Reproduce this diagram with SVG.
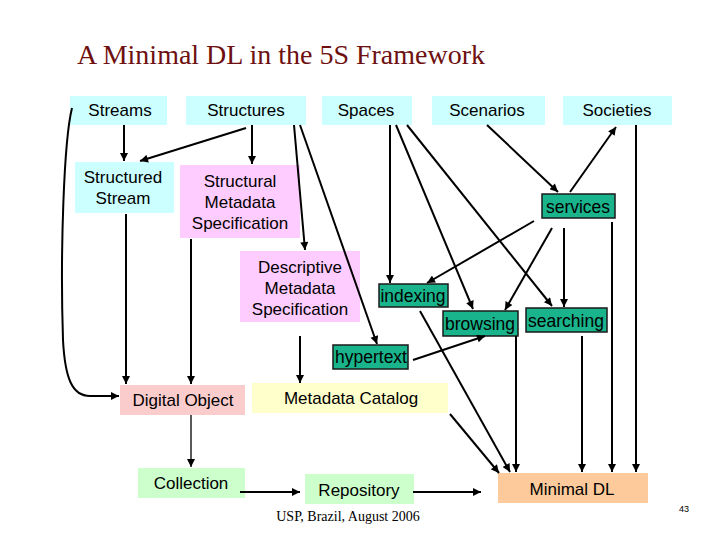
<svg xmlns="http://www.w3.org/2000/svg" width="720" height="540" viewBox="0 0 720 540">
<style>
.t{font-family:"Liberation Sans",Arial,sans-serif;font-size:17px;fill:#000;text-anchor:middle}
.g{font-size:17.5px}
.cy{fill:#ccffff}
.pk{fill:#ffccff}
.gr{fill:#1ab48c;stroke:#1a1a1a;stroke-width:1.5}
.sa{fill:#fbcccc}
.ye{fill:#ffffcc}
.lg{fill:#ccffcc}
.pe{fill:#fdcb9b}
#connectors path{fill:none;stroke:#000;stroke-width:2;marker-end:url(#ah)}
</style>
<defs>
<marker id="ah" viewBox="0 0 10 10" refX="10" refY="5" markerWidth="9" markerHeight="8" markerUnits="userSpaceOnUse" orient="auto">
<path d="M0,0 L10,5 L0,10 z" fill="#000"/>
</marker>
</defs>
<rect width="720" height="540" fill="#fff"/>
<text x="77" y="64" font-family="Liberation Serif,Times New Roman,serif" font-size="28" fill="#6e1010">A Minimal DL in the 5S Framework</text>

<g id="streams"><rect class="cy" x="70" y="96" width="97" height="29"/><text class="t" x="120" y="116">Streams</text></g>
<g id="structures"><rect class="cy" x="186" y="96" width="120" height="29"/><text class="t" x="246" y="116">Structures</text></g>
<g id="spaces"><rect class="cy" x="322" y="96" width="90" height="29"/><text class="t" x="366" y="116">Spaces</text></g>
<g id="scenarios"><rect class="cy" x="432" y="96" width="113" height="29"/><text class="t" x="487" y="116">Scenarios</text></g>
<g id="societies"><rect class="cy" x="563" y="96" width="109" height="29"/><text class="t" x="617" y="116">Societies</text></g>

<g id="structured-stream"><rect class="cy" x="75" y="162" width="99" height="51"/><text class="t" x="123" y="183">Structured</text><text class="t" x="123" y="204">Stream</text></g>
<g id="structural-metadata"><rect class="pk" x="180" y="165" width="120" height="73"/><text class="t" x="240" y="187">Structural</text><text class="t" x="240" y="208">Metadata</text><text class="t" x="240" y="229">Specification</text></g>
<g id="descriptive-metadata"><rect class="pk" x="240" y="251" width="120" height="71"/><text class="t" x="300" y="273">Descriptive</text><text class="t" x="300" y="294">Metadata</text><text class="t" x="300" y="315">Specification</text></g>

<g id="services"><rect class="gr" x="542" y="194" width="73" height="24"/><text class="t g" x="578" y="213">services</text></g>
<g id="indexing"><rect class="gr" x="379" y="284" width="69" height="23"/><text class="t g" x="413" y="302">indexing</text></g>
<g id="browsing"><rect class="gr" x="443" y="311" width="75" height="25"/><text class="t g" x="480" y="330">browsing</text></g>
<g id="searching"><rect class="gr" x="526" y="308" width="81" height="24"/><text class="t g" x="566" y="327">searching</text></g>
<g id="hypertext"><rect class="gr" x="333" y="345" width="75" height="24"/><text class="t g" x="371" y="363">hypertext</text></g>

<g id="digital-object"><rect class="sa" x="120" y="385" width="125" height="30"/><text class="t" x="183" y="406">Digital Object</text></g>
<g id="metadata-catalog"><rect class="ye" x="252" y="383" width="196" height="30"/><text class="t" x="351" y="404">Metadata Catalog</text></g>
<g id="collection"><rect class="lg" x="138" y="468" width="107" height="30"/><text class="t" x="191" y="489">Collection</text></g>
<g id="repository"><rect class="lg" x="305" y="474" width="109" height="30"/><text class="t" x="359" y="496">Repository</text></g>
<g id="minimal-dl"><rect class="pe" x="498" y="473" width="150" height="30"/><text class="t" x="572" y="495">Minimal DL</text></g>

<g id="connectors">
<path d="M124,125 L124,161"/>
<path d="M246,128 L140,161"/>
<path d="M252,125 L252,164"/>
<path d="M294,125 L305,250"/>
<path d="M300,125 L377,344"/>
<path d="M390,125 L390,283"/>
<path d="M396,125 L473,309"/>
<path d="M407,125 L552,306"/>
<path d="M487,125 L558,192"/>
<path d="M570,192 L616,127"/>
<path d="M636,125 L636,472"/>
<path d="M534,221 L427,283"/>
<path d="M552,228 L505,310"/>
<path d="M564,228 L564,307"/>
<path d="M612,222 L612,472"/>
<path d="M516,336 L516,472"/>
<path d="M582,336 L582,472"/>
<path d="M420,311 L510,472"/>
<path d="M450,414 L499,473"/>
<path d="M413,360 L485,336"/>
<path d="M300,336 L300,383"/>
<path d="M126,214 L126,384"/>
<path d="M191,239 L191,384"/>
<path d="M191,415 L191,467" style="stroke-width:1.3"/>
<path d="M240,492 L300,492"/>
<path d="M413,492 L481,492"/>
<path d="M72,108 C64,140 60,250 63,340 C65,378 72,396 90,396 L119,396"/>
</g>

<text x="348" y="521" font-family="Liberation Serif,Times New Roman,serif" font-size="14" fill="#000" text-anchor="middle">USP, Brazil, August 2006</text>
<text x="684" y="512" font-family="Liberation Sans,Arial,sans-serif" font-size="9" fill="#000" text-anchor="middle">43</text>
</svg>
